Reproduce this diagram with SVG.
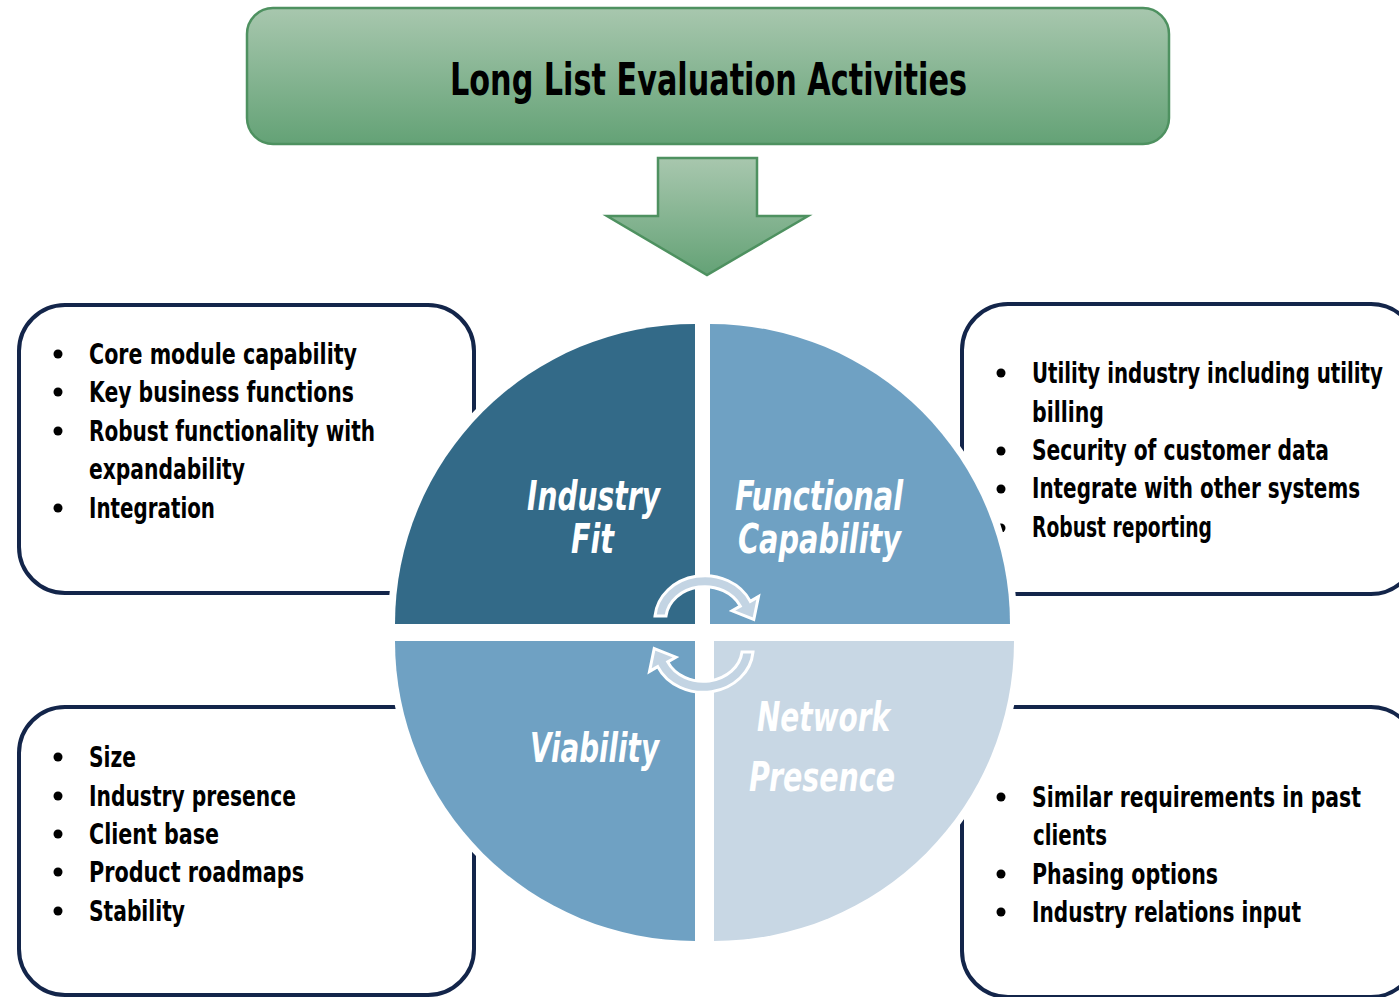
<svg xmlns="http://www.w3.org/2000/svg" width="1399" height="997" viewBox="0 0 1399 997">
  <defs>
    <linearGradient id="greenGrad" x1="0" y1="0" x2="0" y2="1">
      <stop offset="0" stop-color="#a8c7ae"/>
      <stop offset="1" stop-color="#64a276"/>
    </linearGradient>
    <style>
      .box { fill: #ffffff; stroke: #13254a; stroke-width: 4; }
      .item { font-family: "Liberation Sans Narrow", "DejaVu Sans Condensed", "Liberation Sans", sans-serif; font-weight: bold; font-size: 29px; fill: #000000; }
      .dot { fill: #000000; }
      .halo { fill: #ffffff; stroke: #ffffff; stroke-width: 14; stroke-linejoin: round; }
      .quad-label { font-family: "Liberation Sans Narrow", "DejaVu Sans Condensed", "Liberation Sans", sans-serif; font-weight: bold; font-style: italic; font-size: 40px; fill: #ffffff; }
      .cycle { fill: #c3d4e3; stroke: #ffffff; stroke-width: 3; stroke-linejoin: miter; }
    </style>
  </defs>

  <rect width="1399" height="997" fill="#ffffff"/>

  <!-- Title banner -->
  <g id="title">
    <rect x="247" y="8" width="922" height="136" rx="26" ry="26" fill="url(#greenGrad)" stroke="#4e9160" stroke-width="2.5"/>
    <text x="450" y="95" textLength="517" lengthAdjust="spacingAndGlyphs" font-family="'Liberation Sans Narrow', 'DejaVu Sans Condensed', 'Liberation Sans', sans-serif" font-weight="bold" font-size="44" fill="#000000">Long List Evaluation Activities</text>
  </g>

  <!-- Down arrow -->
  <g id="connectors">
    <polygon points="658,158 757,158 757,216 808,216 707,275 607,216 658,216" fill="url(#greenGrad)" stroke="#4e9160" stroke-width="2.5" stroke-linejoin="miter"/>
  </g>

  <!-- Criteria boxes -->
  <g id="box-industry-fit">
    <rect class="box" x="19" y="305" width="455" height="288" rx="46" ry="46"/>
    <circle class="dot" cx="58" cy="354" r="4.5"/>
    <circle class="dot" cx="58" cy="392" r="4.5"/>
    <circle class="dot" cx="58" cy="431" r="4.5"/>
    <circle class="dot" cx="58" cy="508" r="4.5"/>
    <text class="item" x="89" y="364" textLength="268" lengthAdjust="spacingAndGlyphs">Core module capability</text>
    <text class="item" x="89" y="402" textLength="265" lengthAdjust="spacingAndGlyphs">Key business functions</text>
    <text class="item" x="89" y="441" textLength="286" lengthAdjust="spacingAndGlyphs">Robust functionality with</text>
    <text class="item" x="89" y="479" textLength="156" lengthAdjust="spacingAndGlyphs">expandability</text>
    <text class="item" x="89" y="518" textLength="126" lengthAdjust="spacingAndGlyphs">Integration</text>
  </g>

  <g id="box-functional-capability">
    <rect class="box" x="962" y="304" width="455" height="290" rx="46" ry="46"/>
    <circle class="dot" cx="1001" cy="373" r="4.5"/>
    <circle class="dot" cx="1001" cy="451" r="4.5"/>
    <circle class="dot" cx="1001" cy="489" r="4.5"/>
    <circle class="dot" cx="1001" cy="528" r="4.5"/>
    <text class="item" x="1032" y="383" textLength="351" lengthAdjust="spacingAndGlyphs">Utility industry including utility</text>
    <text class="item" x="1032" y="422" textLength="72" lengthAdjust="spacingAndGlyphs">billing</text>
    <text class="item" x="1032" y="460" textLength="297" lengthAdjust="spacingAndGlyphs">Security of customer data</text>
    <text class="item" x="1032" y="498" textLength="328" lengthAdjust="spacingAndGlyphs">Integrate with other systems</text>
    <text class="item" x="1032" y="537" textLength="180" lengthAdjust="spacingAndGlyphs">Robust reporting</text>
  </g>

  <g id="box-viability">
    <rect class="box" x="19" y="707" width="455" height="288" rx="46" ry="46"/>
    <circle class="dot" cx="58" cy="757" r="4.5"/>
    <circle class="dot" cx="58" cy="796" r="4.5"/>
    <circle class="dot" cx="58" cy="834" r="4.5"/>
    <circle class="dot" cx="58" cy="872" r="4.5"/>
    <circle class="dot" cx="58" cy="911" r="4.5"/>
    <text class="item" x="89" y="767" textLength="47" lengthAdjust="spacingAndGlyphs">Size</text>
    <text class="item" x="89" y="806" textLength="207" lengthAdjust="spacingAndGlyphs">Industry presence</text>
    <text class="item" x="89" y="844" textLength="130" lengthAdjust="spacingAndGlyphs">Client base</text>
    <text class="item" x="89" y="882" textLength="215" lengthAdjust="spacingAndGlyphs">Product roadmaps</text>
    <text class="item" x="89" y="921" textLength="96" lengthAdjust="spacingAndGlyphs">Stability</text>
  </g>

  <g id="box-network-presence">
    <rect class="box" x="962" y="707" width="455" height="290" rx="46" ry="46"/>
    <circle class="dot" cx="1001" cy="797" r="4.5"/>
    <circle class="dot" cx="1001" cy="874" r="4.5"/>
    <circle class="dot" cx="1001" cy="912" r="4.5"/>
    <text class="item" x="1032" y="807" textLength="329" lengthAdjust="spacingAndGlyphs">Similar requirements in past</text>
    <text class="item" x="1033" y="845" textLength="74" lengthAdjust="spacingAndGlyphs">clients</text>
    <text class="item" x="1032" y="884" textLength="186" lengthAdjust="spacingAndGlyphs">Phasing options</text>
    <text class="item" x="1032" y="922" textLength="269" lengthAdjust="spacingAndGlyphs">Industry relations input</text>
  </g>

  <!-- Central four-part circle: white halo first, then the coloured quadrants -->
  <g id="circle-halo">
    <path class="halo" d="M695,624 L395,624 A300,300 0 0 1 695,324 Z"/>
    <path class="halo" d="M710,624 L710,324 A300,300 0 0 1 1010,624 Z"/>
    <path class="halo" d="M695,641 L695,941 A300,300 0 0 1 395,641 Z"/>
    <path class="halo" d="M714,641 L1014,641 A300,300 0 0 1 714,941 Z"/>
  </g>

  <g id="quadrant-industry-fit">
    <path d="M695,624 L395,624 A300,300 0 0 1 695,324 Z" fill="#336a88"/>
    <text class="quad-label" x="527" y="510" textLength="133" lengthAdjust="spacingAndGlyphs">Industry</text>
    <text class="quad-label" x="571" y="553" textLength="43" lengthAdjust="spacingAndGlyphs">Fit</text>
  </g>

  <g id="quadrant-functional-capability">
    <path d="M710,624 L710,324 A300,300 0 0 1 1010,624 Z" fill="#6fa1c3"/>
    <text class="quad-label" x="735" y="510" textLength="168" lengthAdjust="spacingAndGlyphs">Functional</text>
    <text class="quad-label" x="738" y="553" textLength="163" lengthAdjust="spacingAndGlyphs">Capability</text>
  </g>

  <g id="quadrant-viability">
    <path d="M695,641 L695,941 A300,300 0 0 1 395,641 Z" fill="#6fa1c3"/>
    <text class="quad-label" x="530" y="762" textLength="129" lengthAdjust="spacingAndGlyphs">Viability</text>
  </g>

  <g id="quadrant-network-presence">
    <path d="M714,641 L1014,641 A300,300 0 0 1 714,941 Z" fill="#c8d7e4"/>
    <text class="quad-label" x="757" y="731" textLength="133" lengthAdjust="spacingAndGlyphs">Network</text>
    <text class="quad-label" x="749" y="791" textLength="146" lengthAdjust="spacingAndGlyphs">Presence</text>
  </g>

  <!-- Cycle arrows at the centre -->
  <g id="cycle-arrows">
    <path id="cycle-top" class="cycle" d="M655,616 A50,44 0 0 1 750.3,601.4 L758.5,596.6 L753.8,619.5 L732.1,610.8 L740.3,606.1 A39,33 0 0 0 666,616 Z"/>
    <path class="cycle" transform="rotate(180 704 634)" d="M655,616 A50,44 0 0 1 750.3,601.4 L758.5,596.6 L753.8,619.5 L732.1,610.8 L740.3,606.1 A39,33 0 0 0 666,616 Z"/>
  </g>
</svg>
